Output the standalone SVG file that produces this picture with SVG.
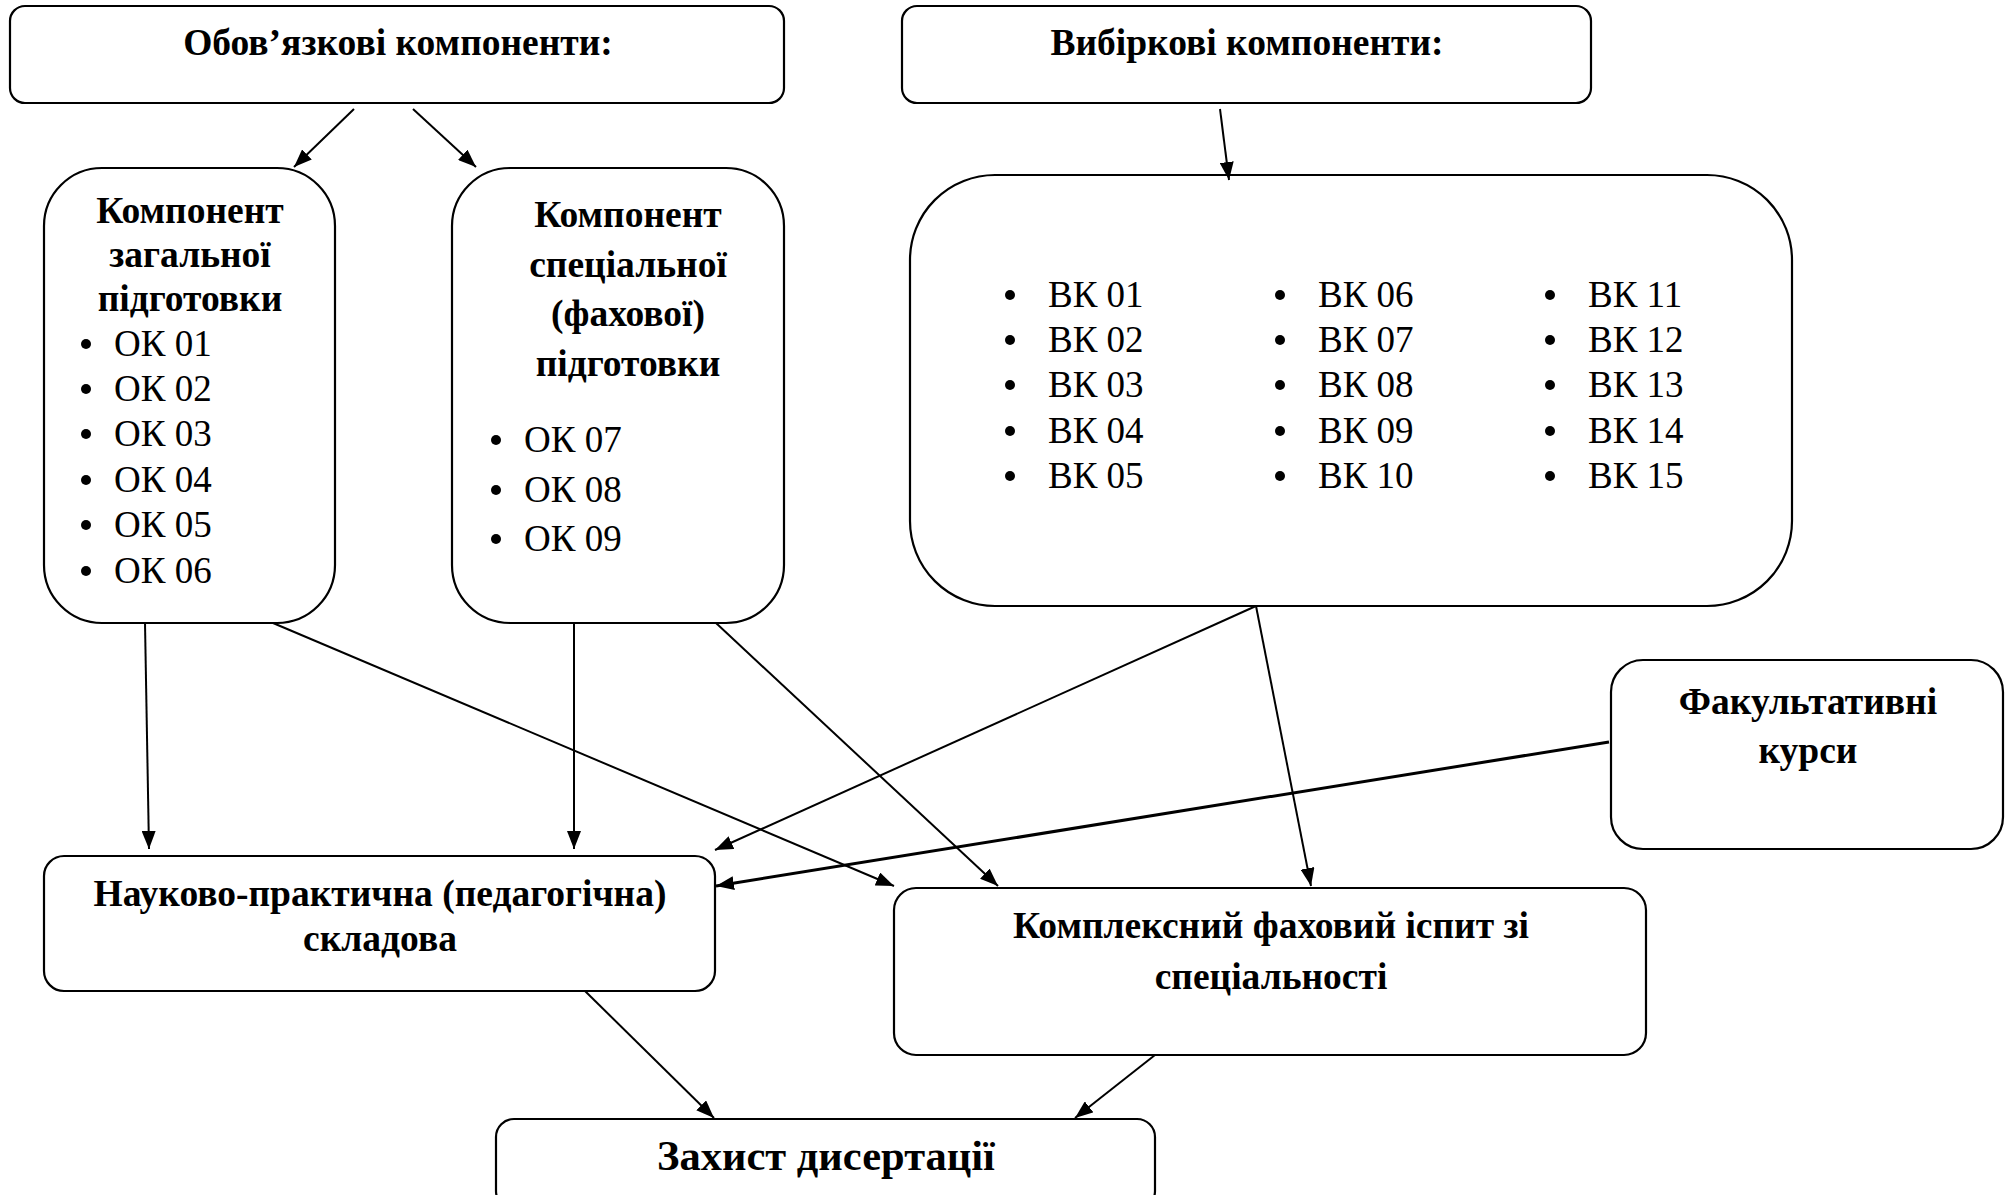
<svg xmlns="http://www.w3.org/2000/svg" width="2013" height="1195" viewBox="0 0 2013 1195">
<defs>
<style>
.box{fill:#fff;stroke:#000;stroke-width:2.2}
.b{font-family:"Liberation Serif","Times New Roman",serif;font-weight:bold;font-size:37.5px;text-anchor:middle;fill:#000}
.r{font-family:"Liberation Serif","Times New Roman",serif;font-size:37px;fill:#000}
.c{fill:none;stroke:#000;stroke-width:2}
.dot{fill:#000}
</style>
<marker id="ah" markerWidth="18" markerHeight="14" refX="18" refY="7" orient="auto" markerUnits="userSpaceOnUse">
<path d="M0,0 L18,7 L0,14 Z" fill="#000"/>
</marker>
</defs>
<rect width="2013" height="1195" fill="#fff"/>
<g id="oblig">
<rect class="box" x="10" y="6" width="774" height="97" rx="15"/>
<text class="b" x="398" y="55">Обов’язкові компоненти:</text>
</g>
<g id="vybir">
<rect class="box" x="902" y="6" width="689" height="97" rx="15"/>
<text class="b" x="1247" y="55">Вибіркові компоненти:</text>
</g>
<g id="zag">
<rect class="box" x="44" y="168" width="291" height="455" rx="58"/>
<text class="b" x="190" y="223">Компонент</text>
<text class="b" x="190" y="267">загальної</text>
<text class="b" x="190" y="311">підготовки</text>
<circle class="dot" cx="86" cy="344" r="5"/><text class="r" x="114" y="356">ОК 01</text>
<circle class="dot" cx="86" cy="389" r="5"/><text class="r" x="114" y="401">ОК 02</text>
<circle class="dot" cx="86" cy="434" r="5"/><text class="r" x="114" y="446">ОК 03</text>
<circle class="dot" cx="86" cy="480" r="5"/><text class="r" x="114" y="492">ОК 04</text>
<circle class="dot" cx="86" cy="525" r="5"/><text class="r" x="114" y="537">ОК 05</text>
<circle class="dot" cx="86" cy="571" r="5"/><text class="r" x="114" y="583">ОК 06</text>
</g>
<g id="spec">
<rect class="box" x="452" y="168" width="332" height="455" rx="58"/>
<text class="b" x="628" y="227">Компонент</text>
<text class="b" x="628" y="277">спеціальної</text>
<text class="b" x="628" y="326">(фахової)</text>
<text class="b" x="628" y="376">підготовки</text>
<circle class="dot" cx="496" cy="440" r="5"/><text class="r" x="524" y="452">ОК 07</text>
<circle class="dot" cx="496" cy="490" r="5"/><text class="r" x="524" y="502">ОК 08</text>
<circle class="dot" cx="496" cy="539" r="5"/><text class="r" x="524" y="551">ОК 09</text>
</g>
<g id="vk">
<rect class="box" x="910" y="175" width="882" height="431" rx="85"/>
<circle class="dot" cx="1010" cy="295" r="5"/><text class="r" x="1048" y="307">ВК 01</text>
<circle class="dot" cx="1010" cy="340" r="5"/><text class="r" x="1048" y="352">ВК 02</text>
<circle class="dot" cx="1010" cy="385" r="5"/><text class="r" x="1048" y="397">ВК 03</text>
<circle class="dot" cx="1010" cy="431" r="5"/><text class="r" x="1048" y="443">ВК 04</text>
<circle class="dot" cx="1010" cy="476" r="5"/><text class="r" x="1048" y="488">ВК 05</text>
<circle class="dot" cx="1280" cy="295" r="5"/><text class="r" x="1318" y="307">ВК 06</text>
<circle class="dot" cx="1280" cy="340" r="5"/><text class="r" x="1318" y="352">ВК 07</text>
<circle class="dot" cx="1280" cy="385" r="5"/><text class="r" x="1318" y="397">ВК 08</text>
<circle class="dot" cx="1280" cy="431" r="5"/><text class="r" x="1318" y="443">ВК 09</text>
<circle class="dot" cx="1280" cy="476" r="5"/><text class="r" x="1318" y="488">ВК 10</text>
<circle class="dot" cx="1550" cy="295" r="5"/><text class="r" x="1588" y="307">ВК 11</text>
<circle class="dot" cx="1550" cy="340" r="5"/><text class="r" x="1588" y="352">ВК 12</text>
<circle class="dot" cx="1550" cy="385" r="5"/><text class="r" x="1588" y="397">ВК 13</text>
<circle class="dot" cx="1550" cy="431" r="5"/><text class="r" x="1588" y="443">ВК 14</text>
<circle class="dot" cx="1550" cy="476" r="5"/><text class="r" x="1588" y="488">ВК 15</text>
</g>
<g id="fak">
<rect class="box" x="1611" y="660" width="392" height="189" rx="32"/>
<text class="b" x="1808" y="714">Факультативні</text>
<text class="b" x="1808" y="763">курси</text>
</g>
<g id="nauk">
<rect class="box" x="44" y="856" width="671" height="135" rx="20"/>
<text class="b" x="380" y="906">Науково-практична (педагогічна)</text>
<text class="b" x="380" y="951">складова</text>
</g>
<g id="kompl">
<rect class="box" x="894" y="888" width="752" height="167" rx="22"/>
<text class="b" x="1271" y="938">Комплексний фаховий іспит зі</text>
<text class="b" x="1271" y="989">спеціальності</text>
</g>
<g id="zakhyst">
<rect class="box" x="496" y="1119" width="659" height="90" rx="18"/>
<text class="b" x="826" y="1170" style="font-size:42.5px">Захист дисертації</text>
</g>
<g id="connectors">
<line class="c" x1="354" y1="109" x2="294" y2="167" marker-end="url(#ah)"/>
<line class="c" x1="413" y1="109" x2="476" y2="167" marker-end="url(#ah)"/>
<line class="c" x1="1220" y1="109" x2="1229" y2="180" marker-end="url(#ah)"/>
<line class="c" x1="145" y1="623" x2="149" y2="849" marker-end="url(#ah)"/>
<line class="c" x1="574" y1="623" x2="574" y2="849" marker-end="url(#ah)"/>
<line class="c" x1="273" y1="623" x2="894" y2="886" marker-end="url(#ah)"/>
<line class="c" x1="716" y1="623" x2="998" y2="886" marker-end="url(#ah)"/>
<line class="c" x1="1256" y1="606" x2="715" y2="850" marker-end="url(#ah)"/>
<line class="c" x1="1256" y1="606" x2="1311" y2="886" marker-end="url(#ah)"/>
<line class="c" x1="1609" y1="742" x2="716" y2="886" marker-end="url(#ah)" style="stroke-width:3"/>
<line class="c" x1="585" y1="991" x2="714" y2="1118" marker-end="url(#ah)"/>
<line class="c" x1="1155" y1="1055" x2="1075" y2="1118" marker-end="url(#ah)"/>
</g>
</svg>
